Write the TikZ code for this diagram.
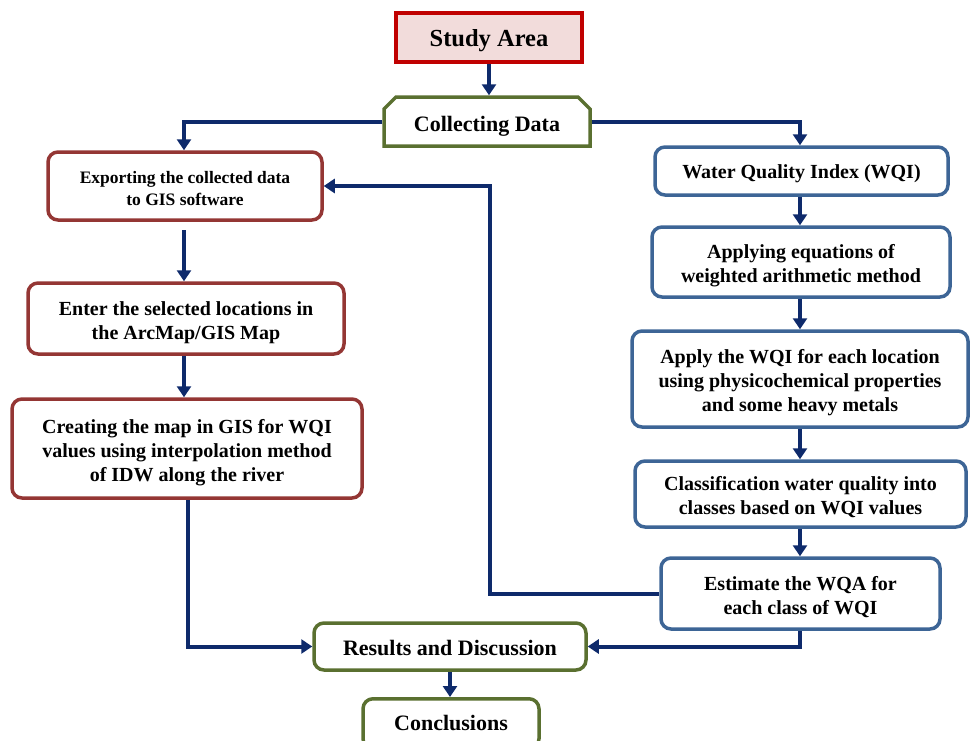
\documentclass[tikz,border=0pt]{standalone}
\usepackage{fontspec}
\setmainfont{Liberation Serif}
\usetikzlibrary{shapes.misc,arrows.meta}
\definecolor{redb}{HTML}{C00000}
\definecolor{pinkf}{HTML}{F2DCDB}
\definecolor{oliveb}{HTML}{5A7030}
\definecolor{brownb}{HTML}{943634}
\definecolor{blueb}{HTML}{3D6596}
\definecolor{navy}{HTML}{0E2A6B}
\newcommand{\tx}[2][-4pt]{\raisebox{#1}[\height][\depth]{\begin{tabular}{@{}c@{}}#2\end{tabular}}}
\tikzset{
  box/.style={draw, line width=3.5pt, fill=white, align=center, font=\bfseries\fontsize{20}{24}\selectfont, inner sep=0pt, rounded corners=10pt},
  redbox/.style={box, draw=brownb},
  bluebox/.style={box, draw=blueb},
  greenbox/.style={box, draw=oliveb, font=\bfseries\fontsize{22}{26}\selectfont},
  arr/.style={draw=navy, line width=4pt, -{Triangle[length=11pt,width=14pt]}},
}
\begin{document}
\begin{tikzpicture}[x=1pt,y=-1pt]
\useasboundingbox (0,0) rectangle (970,740);
\begin{scope}
\clip (0,0) rectangle (970,740);
% top
\node[box, draw=redb, fill=pinkf, rounded corners=0pt, minimum width=186pt, minimum height=49pt, font=\bfseries\fontsize{24.5}{28}\selectfont] (study) at (489,37.5) {\tx[-3pt]{Study Area}};
\node[draw=oliveb, line width=3.5pt, fill=white, chamfered rectangle, chamfered rectangle corners={north east,north west}, chamfered rectangle xsep=6pt, chamfered rectangle ysep=6pt, minimum width=206pt, minimum height=49pt, inner sep=0pt, font=\bfseries\fontsize{22}{26}\selectfont] (collect) at (487,121.5) {\tx[-5pt]{Collecting Data}};
% left column
\node[redbox, minimum width=274pt, minimum height=68pt, font=\bfseries\fontsize{17.5}{22}\selectfont] (export) at (185,186) {\tx{Exporting the collected data\\to GIS software}};
\node[redbox, minimum width=316pt, minimum height=71pt] (enter) at (186,318.5) {\tx{Enter the selected locations in\\the ArcMap/GIS Map}};
\node[redbox, minimum width=350pt, minimum height=99pt] (create) at (187,448.5) {\tx{Creating the map in GIS for WQI\\values using interpolation method\\of IDW along the river}};
% right column
\node[bluebox, minimum width=293pt, minimum height=48pt] (wqi) at (801.5,171) {\tx[-3pt]{Water Quality Index (WQI)}};
\node[bluebox, minimum width=298pt, minimum height=70pt] (apply) at (801,262) {\tx{Applying equations of\\weighted arithmetic method}};
\node[bluebox, minimum width=336pt, minimum height=96pt] (applywqi) at (800,379) {\tx{Apply the WQI for each location\\using physicochemical properties\\and some heavy metals}};
\node[bluebox, minimum width=331pt, minimum height=66pt] (classif) at (800.5,494) {\tx{Classification water quality into\\classes based on WQI values}};
\node[bluebox, minimum width=279pt, minimum height=71pt] (estim) at (800.5,593.5) {\tx{Estimate the WQA for\\each class of WQI}};
% bottom
\node[greenbox, minimum width=272pt, minimum height=47pt] (results) at (450,646.5) {\tx{Results and Discussion}};
\node[greenbox, minimum width=176pt, minimum height=50pt, anchor=north] (concl) at (451,697) {\tx[-2pt]{Conclusions}};
\end{scope}
% connectors
\draw[arr] (study.south) -- (collect.north -| study.south);
\draw[arr] (collect.west) -| (export.north -| 184,0);
\draw[arr] (collect.east) -| (wqi.north -| 800,0);
\draw[arr] (184,230) -- (enter.north -| 184,0);
\draw[arr] (enter.south -| 184,0) -- (create.north -| 184,0);
\draw[arr] (create.south -| 188,0) |- (results.west);
\draw[arr] (wqi.south -| 800,0) -- (apply.north -| 800,0);
\draw[arr] (apply.south -| 800,0) -- (applywqi.north -| 800,0);
\draw[arr] (applywqi.south -| 800,0) -- (classif.north -| 800,0);
\draw[arr] (classif.south -| 800,0) -- (estim.north -| 800,0);
\draw[arr] (estim.south -| 800,0) |- (results.east);
\draw[arr] (estim.west) -| (490,186) -- (export.east);
\draw[arr] (results.south -| 450,0) -- (concl.north -| 450,0);
\end{tikzpicture}
\end{document}
